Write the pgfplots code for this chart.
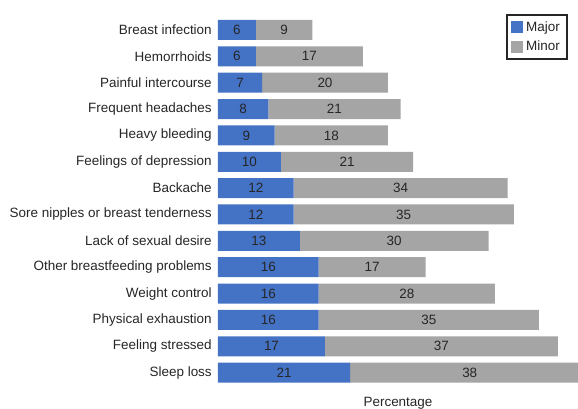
\documentclass[border=0pt]{standalone}
\usepackage{pgfplots}
\pgfplotsset{compat=1.18}
\usepackage{pgfplotstable}
\usepackage{fontspec}
\setmainfont{Liberation Sans}
\definecolor{major}{HTML}{4472C4}
\definecolor{minor}{HTML}{A5A5A5}
\definecolor{txt}{HTML}{262626}
\newcommand\chartfont{\fontsize{10.1}{12.2}\selectfont}

% Share of respondents reporting each problem as major or minor (%)
\pgfplotstableread[col sep=comma]{
idx,label,major,minor
0,Breast infection,6,9
1,Hemorrhoids,6,17
2,Painful intercourse,7,20
3,Frequent headaches,8,21
4,Heavy bleeding,9,18
5,Feelings of depression,10,21
6,Backache,12,34
7,Sore nipples or breast tenderness,12,35
8,Lack of sexual desire,13,30
9,Other breastfeeding problems,16,17
10,Weight control,16,28
11,Physical exhaustion,16,35
12,Feeling stressed,17,37
13,Sleep loss,21,38
}\problems

\begin{document}
\begin{tikzpicture}
\begin{axis}[
  name=ax,
  scale only axis,
  width=283.22pt, height=276.75pt,
  xbar stacked,
  bar width=15pt,
  xmin=0, xmax=60,
  ymin=-0.5, ymax=13.5,
  y dir=reverse,
  axis line style={draw=none},
  major tick length=0pt,
  xtick=\empty,
  ytick={0,...,13},
  yticklabels from table={\problems}{label},
  yticklabel style={font=\chartfont, text=txt, inner sep=0pt, xshift=-4.5pt},
  xlabel={Percentage},
  xlabel style={font=\chartfont, text=txt, at={(axis description cs:0.4767,0)}, anchor=center, yshift=-12.75pt},
  /pgf/number format/assume math mode=true,
  nodes near coords,
  every node near coord/.append style={font=\chartfont, text=txt},
  legend style={at={(1,1)}, anchor=north east, xshift=-20.7pt, yshift=2.1pt,
    draw=black!85, line width=1.4pt, font=\chartfont, text=txt,
    row sep=1.5pt, inner xsep=3.5pt, inner ysep=3pt},
  legend cell align=left,
  legend image code/.code={\fill[#1] (0pt,-4.5pt) rectangle (9pt,4.5pt);},
]
\addplot[fill=major, draw=none] table[x=major, y=idx, col sep=comma] {\problems};
\addplot[fill=minor, draw=none] table[x=minor, y=idx, col sep=comma] {\problems};
\legend{Major, Minor}
\end{axis}
\pgfresetboundingbox
\path[use as bounding box] ([shift={(-163.5pt,-17.25pt)}]ax.south west) rectangle ([shift={(-13.22pt,12.6pt)}]ax.north east);
\end{tikzpicture}
\end{document}
